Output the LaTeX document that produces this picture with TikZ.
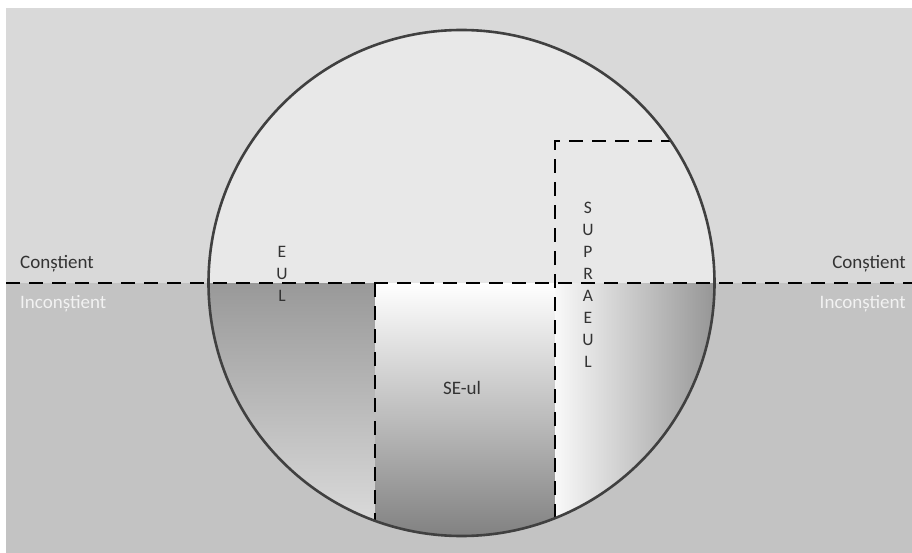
\documentclass[tikz,border=0pt]{standalone}
\usepackage{fontspec}
\setmainfont{Carlito}
\begin{document}
\begin{tikzpicture}[x=1pt,y=-1pt,
  contour/.style={draw=black!75,line width=2.6pt},
  limit/.style={dash pattern=on 14pt off 9pt,line width=1.8pt},
  lbl/.style={font=\fontsize{19}{21}\selectfont,inner sep=0pt,text=black!80},
  letters/.style={lbl,align=center,font=\fontsize{17.5}{22}\selectfont}]
  \useasboundingbox (0,0) rectangle (912,553);
  \fill[white] (0,0) rectangle (912,553);
  % background: upper and lower half
  \fill[gray!30] (6,8) rectangle (912,283);
  \fill[gray!47] (6,283) rectangle (912,553);
  \coordinate (c) at (461.5,283);
  \begin{scope}
    \clip (c) circle[radius=253pt];
    \fill[gray!18] (200,20) rectangle (720,283);
    \shade[top color=gray!80,bottom color=gray!25] (200,283) rectangle (375,540);
    \shade[top color=white,bottom color=gray!100] (375,283) rectangle (555,540);
    \shade[left color=gray!5,right color=gray!85] (555,283) rectangle (720,540);
  \end{scope}
  % named points
  \coordinate (w) at (6,283);
  \coordinate (e) at (912,283);
  \coordinate (ego) at (375,283);
  \coordinate (egob) at (375,521);
  \coordinate (sup) at (555,141);
  \coordinate (supb) at (555,518);
  \coordinate (supr) at (671,141);
  \draw[limit] (w) -- (e);
  \draw[limit] (ego) -- (egob);
  \draw[limit] (supb) -- (sup) -- (supr);
  \draw[contour] (c) circle[radius=253pt];
  % labels
  \node[lbl,anchor=base west] (cl) at (20,269) {Conștient};
  \node[lbl,anchor=base west,text=white!95!black] (il) at (20,308) {Inconștient};
  \node[lbl,anchor=base east] (cr) at (906,269) {Conștient};
  \node[lbl,anchor=base east,text=white!95!black] (ir) at (906,308) {Inconștient};
  \node[letters] (eul) at (282,274) {E\\U\\L};
  \node[letters] (supra) at (588,285) {S\\U\\P\\R\\A\\E\\U\\L};
  \node[lbl] (se) at (462,388) {SE-ul};
\end{tikzpicture}
\end{document}
